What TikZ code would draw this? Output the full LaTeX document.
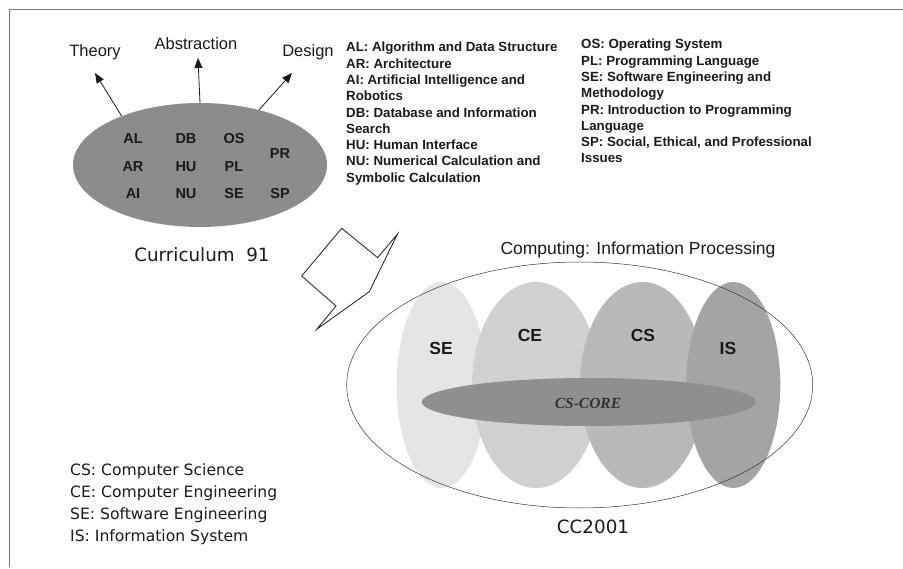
\documentclass[tikz,border=0pt]{standalone}
\usepackage{fontspec}
\setmainfont{Liberation Sans}
\newfontfamily\gothic{DejaVu Sans}
\newfontfamily\timesf{Liberation Serif}
\usetikzlibrary{arrows.meta,shapes.geometric}
\definecolor{frame}{HTML}{7A7A7A}
\definecolor{curfill}{HTML}{8C8C8C}
\definecolor{sefill}{HTML}{E5E5E7}
\definecolor{cefill}{HTML}{D0D0D2}
\definecolor{csfill}{HTML}{B9B9BB}
\definecolor{isfill}{HTML}{A4A4A6}
\definecolor{corefill}{HTML}{8F8F91}
\definecolor{txt}{HTML}{1A1A1A}
\begin{document}
\begin{tikzpicture}[x=1pt,y=-1pt,
  ell/.style={ellipse,inner sep=0pt,draw=none},
  abbr/.style={font=\bfseries\fontsize{14.5}{16}\selectfont,text=txt,inner sep=0pt},
  big/.style={font=\bfseries\fontsize{17.5}{19}\selectfont,text=txt,inner sep=0pt},
  dir/.style={font=\fontsize{16.5}{18}\selectfont,text=txt,inner sep=0pt},
  legend/.style={font=\bfseries\fontsize{13.3}{16.3}\selectfont,text=txt,align=left,inner sep=0pt,anchor=north west},
  glegend/.style={font=\gothic\fontsize{15.6}{22.3}\selectfont,text=txt,align=left,inner sep=0pt,anchor=north west},
  gtitle/.style={font=\gothic\fontsize{18.3}{20}\selectfont,text=txt,inner sep=0pt},
  arr/.style={draw=txt,line width=0.8pt,-{Triangle[length=10pt,width=8pt]}}
]
\useasboundingbox (0,0) rectangle (903,569);
% partial frame
\draw[frame,line width=1.6pt] (903,9.5) -- (9.5,9.5) -- (9.5,567);

% Curriculum 91
\node[ell,fill=curfill,minimum width=254pt,minimum height=124pt] (cur) at (200,165) {};
\node[abbr] (al) at (133,139) {AL};
\node[abbr] (db) at (186,139) {DB};
\node[abbr] (os) at (234,139) {OS};
\node[abbr] (pr) at (280,154) {PR};
\node[abbr] (ar) at (133,167) {AR};
\node[abbr] (hu) at (186,167) {HU};
\node[abbr] (pl) at (234,167) {PL};
\node[abbr] (ai) at (133,194) {AI};
\node[abbr] (nu) at (186,194) {NU};
\node[abbr] (se1) at (234,194) {SE};
\node[abbr] (sp) at (280,194) {SP};

\node[dir] (theory) at (95,52) {Theory};
\node[dir] (abstr) at (196,44) {Abstraction};
\node[dir] (design) at (308,52) {Design};
\coordinate (thT) at (95,73);
\coordinate (abT) at (198,58);
\coordinate (deT) at (292,73);
\draw[arr] (cur.148) -- (thT);
\draw[arr] (cur.90) -- (abT);
\draw[arr] (cur.43) -- (deT);

\node[gtitle] (c91) at (202,255) {Curriculum\ \ 91};

% legends
\node[legend] (leg1) at (346,42) {AL: Algorithm and Data Structure\\AR: Architecture\\AI: Artificial Intelligence and\\Robotics\\DB: Database and Information\\Search\\HU: Human Interface\\NU: Numerical Calculation and\\Symbolic Calculation};
\node[legend] (leg2) at (581,39) {OS: Operating System\\PL: Programming Language\\SE: Software Engineering and\\Methodology\\PR: Introduction to Programming\\Language\\SP: Social, Ethical, and Professional\\Issues};

% zigzag arrow
\draw[txt,line width=0.8pt,line join=miter]
  (341.7,228.3) -- (377.7,257.7) -- (397.3,234.3) -- (369.3,291.7)
  -- (316.7,329.3) -- (336,306) -- (301.7,276) -- cycle;

% CC2001
\node[font=\fontsize{17.5}{19}\selectfont,text=txt,inner sep=0pt] (comp) at (638,250) {Computing: Information Processing};
\node[ell,fill=sefill,minimum width=90pt,minimum height=206pt] (se) at (441.7,385) {};
\node[ell,fill=cefill,minimum width=128pt,minimum height=206pt] (ce) at (536,385) {};
\node[ell,fill=csfill,minimum width=125pt,minimum height=206pt] (cs) at (642.5,385) {};
\node[ell,fill=isfill,minimum width=94pt,minimum height=206pt] (is) at (733.3,385) {};
\node[ell,draw=black!80,line width=0.5pt,minimum width=466pt,minimum height=246pt] (outer) at (579.7,385) {};
\node[ell,fill=corefill,minimum width=334pt,minimum height=48pt] (core) at (588.8,402) {};
\node[font=\timesf\bfseries\itshape\fontsize{15.5}{17}\selectfont,text=black!80,inner sep=0pt] (corel) at (588,403) {CS-CORE};
\node[big] (sel) at (441,348) {SE};
\node[big] (cel) at (530,335) {CE};
\node[big] (csl) at (643,335) {CS};
\node[big] (isl) at (728,348) {IS};
\node[gtitle] (cc) at (593,527) {CC2001};

\node[glegend] (leg3) at (70,463) {CS: Computer Science\\CE: Computer Engineering\\SE: Software Engineering\\IS: Information System};
\end{tikzpicture}
\end{document}
